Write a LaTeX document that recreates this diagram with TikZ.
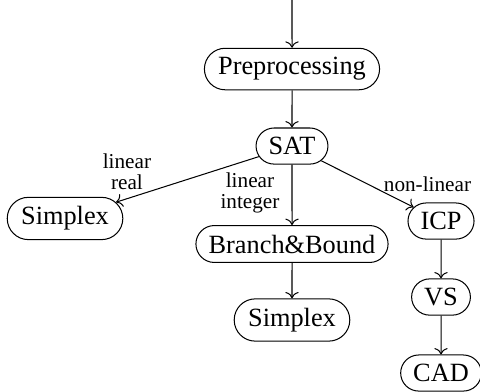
\documentclass[tikz,border=0pt]{standalone}
\usepackage{fontspec}
\setmainfont{Liberation Serif}
\usepackage{tikz}
\usetikzlibrary{arrows.meta,positioning,shapes.misc}

\begin{document}
\begin{tikzpicture}[
    solver/.style={draw, rounded rectangle, inner ysep=3.6pt, inner xsep=4pt,
        font=\fontsize{10.3}{12}\selectfont},
    flow/.style={->},
    branch/.style={font=\fontsize{8.3}{8.3}\selectfont, align=center, inner sep=0pt}
]
    \useasboundingbox (0,0) rectangle (6.6,-5.39);

    % Entry and preprocessing
    \coordinate (entry) at (4.015,0);
    \node[solver] (prep) at (4.015,-0.949) {Preprocessing};
    \node[solver] (sat) at (4.015,-2.008) {SAT};

    % Theory solvers
    \node[solver] (simplexreal) at (0.894,-3.004) {Simplex};
    \node[solver] (bb) at (4.015,-3.355) {Branch\&Bound};
    \node[solver] (simplexint) at (4.015,-4.40) {Simplex};
    \node[solver] (icp) at (6.064,-3.039) {ICP};
    \node[solver] (vs) at (6.064,-4.084) {VS};
    \node[solver] (cad) at (6.064,-5.129) {CAD};

    % Connectors
    \draw[flow] (entry) -- (prep);
    \draw[flow] (prep) -- (sat);
    \draw[flow] (sat) -- (simplexreal);
    \draw[flow] (sat) -- (bb);
    \draw[flow] (sat) -- (icp);
    \draw[flow] (bb) -- (simplexint);
    \draw[flow] (icp) -- (vs);
    \draw[flow] (vs) -- (cad);

    % Edge labels
    \node[branch] (lreal) at (1.746,-2.358) {linear\\real};
    \node[branch] (lint) at (3.4375,-2.654) {linear\\integer};
    \node[branch] (nonlin) at (5.878,-2.53) {non-linear};
\end{tikzpicture}
\end{document}
